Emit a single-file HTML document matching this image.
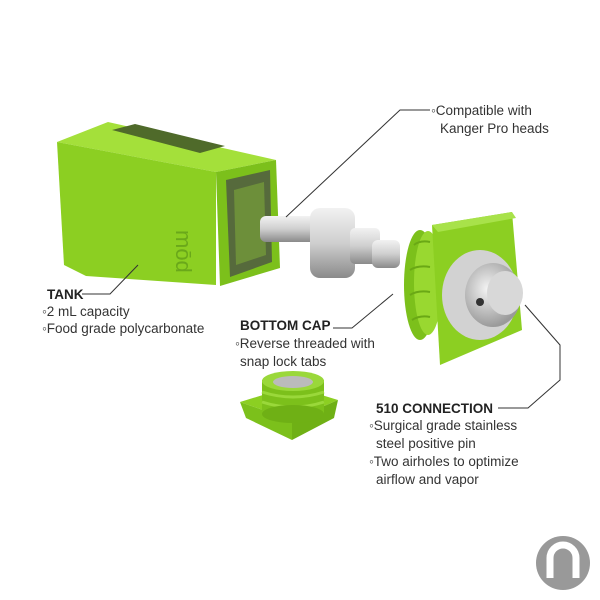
<!DOCTYPE html>
<html><head><meta charset="utf-8"><style>
body{margin:0;background:#fff;}
svg{display:block}
text{font-family:"Liberation Sans",sans-serif;fill:#333;font-size:13.5px}
.b{font-weight:bold;fill:#222}
</style></head><body>
<svg width="600" height="600" viewBox="0 0 600 600" xmlns="http://www.w3.org/2000/svg">
<defs>
<linearGradient id="met" x1="0" y1="0" x2="0" y2="1"><stop offset="0" stop-color="#f2f2f2"/><stop offset="0.5" stop-color="#cfcfcf"/><stop offset="1" stop-color="#8a8a8a"/></linearGradient>
<radialGradient id="met2" cx="0.4" cy="0.4" r="0.6"><stop offset="0" stop-color="#f4f4f4"/><stop offset="1" stop-color="#9a9a9a"/></radialGradient>
</defs>
<!-- Tank -->
<polygon points="57,142 108,122 276,160 216,172" fill="#a4e03a"/>
<polygon points="112,130 135,124 225,146 200,153" fill="#4f6a2a"/>
<polygon points="57,142 216,172 216,285 86,276 64,265" fill="#8ccf22"/>
<polygon points="216,172 276,160 280,268 220,286" fill="#7cc01b"/>
<polygon points="226,180 270,170 272,262 230,277" fill="#566a3c"/>
<polygon points="234,190 264,182 266,255 236,265" fill="#6d8f3a"/>
<text x="196" y="250" transform="rotate(90 196 230)" style="font-size:22px;fill:#6aa81a">mōd</text>
<!-- Coil -->
<rect x="260" y="216" width="60" height="26" rx="6" fill="url(#met)"/>
<rect x="310" y="208" width="45" height="70" rx="10" fill="url(#met)"/>
<rect x="350" y="228" width="30" height="36" rx="5" fill="url(#met)"/>
<rect x="372" y="240" width="28" height="28" rx="6" fill="url(#met)"/>
<!-- Bottom cap right -->
<ellipse cx="420" cy="285" rx="16" ry="55" fill="#7cc01b"/>
<ellipse cx="428" cy="283" rx="14" ry="52" fill="#99d830"/>
<g stroke="#6aa815" stroke-width="2" fill="none">
<path d="M414,245 Q420,240 430,242"/><path d="M410,270 Q418,265 430,267"/><path d="M410,295 Q418,290 430,292"/><path d="M412,320 Q420,315 430,317"/>
</g>
<polygon points="432,225 512,212 522,330 440,365" fill="#8ccf22"/>
<polygon points="432,225 512,212 516,218 438,232" fill="#a8e24a"/>
<ellipse cx="480" cy="295" rx="38" ry="45" fill="#d2d2d2"/>
<ellipse cx="493" cy="295" rx="28" ry="32" fill="url(#met2)"/>
<ellipse cx="505" cy="293" rx="18" ry="22" fill="#d8d8d8"/>
<circle cx="480" cy="302" r="4" fill="#333"/>
<!-- Bottom cap small -->
<polygon points="240,402 292,386 338,400 292,420" fill="#8ccf22"/>
<polygon points="240,402 292,420 292,440 246,418" fill="#7cc01b"/>
<polygon points="292,420 338,400 334,418 292,440" fill="#6fb015"/>
<rect x="262" y="380" width="62" height="34" fill="#7cc01b"/>
<g stroke="#9ad83a" stroke-width="3" fill="none">
<path d="M262,392 Q293,402 324,392"/><path d="M262,402 Q293,412 324,402"/>
</g>
<ellipse cx="293" cy="414" rx="31" ry="9" fill="#6fb015"/>
<ellipse cx="293" cy="381" rx="31" ry="10" fill="#9ad83a"/>
<ellipse cx="293" cy="382" rx="20" ry="6" fill="#bbb"/>
<!-- Connector lines -->
<g fill="none" stroke="#333" stroke-width="1">
<polyline points="286,217 400,110 430,110"/>
<polyline points="82,294 110,294 138,265"/>
<polyline points="333,328 352,328 393,294"/>
<polyline points="498,408 528,408 560,380 560,345 525,305"/>
</g>
<!-- Labels -->
<text x="431" y="115">◦Compatible with</text>
<text x="440" y="133">Kanger Pro heads</text>
<text x="47" y="299" class="b">TANK</text>
<text x="42" y="316">◦2 mL capacity</text>
<text x="42" y="333">◦Food grade polycarbonate</text>
<text x="240" y="330" class="b">BOTTOM CAP</text>
<text x="235" y="348">◦Reverse threaded with</text>
<text x="240" y="366">snap lock tabs</text>
<text x="376" y="413" class="b">510 CONNECTION</text>
<text x="369" y="430">◦Surgical grade stainless</text>
<text x="376" y="448">steel positive pin</text>
<text x="369" y="466">◦Two airholes to optimize</text>
<text x="376" y="484">airflow and vapor</text>
<!-- Logo -->
<circle cx="563" cy="563" r="27" fill="#999"/>
<path d="M550,578 V558 A13,13 0 0 1 576,558 V578" fill="none" stroke="#fff" stroke-width="7"/>
</svg>
</body></html>
